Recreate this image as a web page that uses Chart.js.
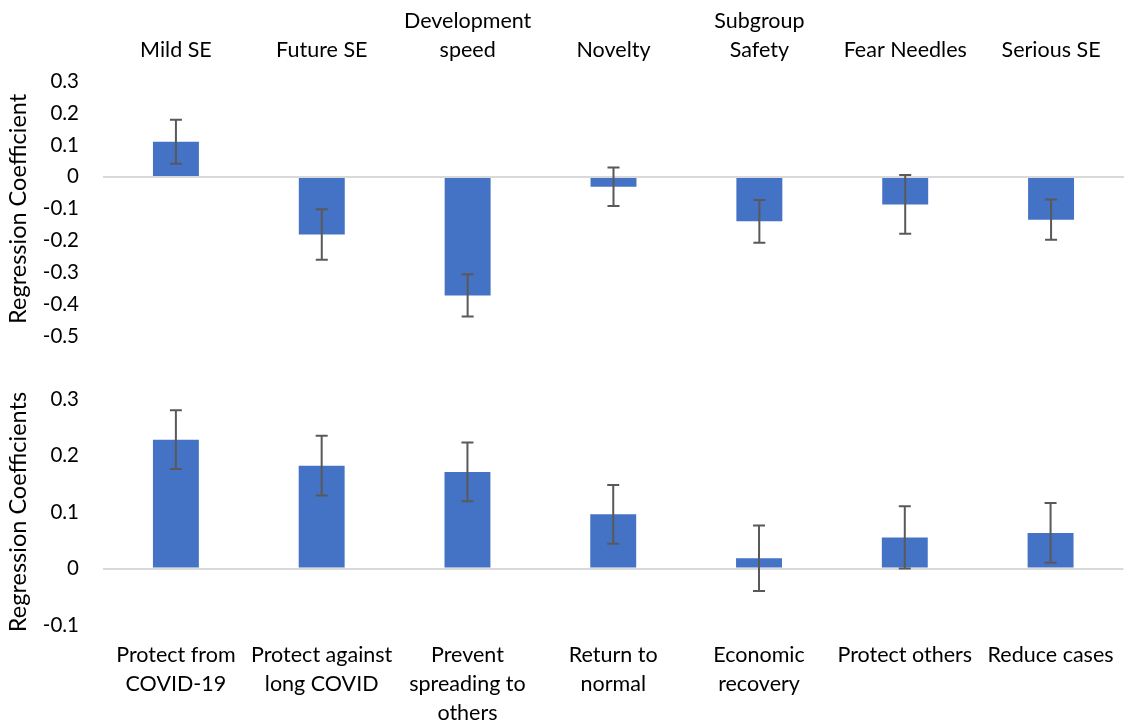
<!DOCTYPE html>
<html>
<head>
<meta charset="utf-8">
<script src="https://cdn.jsdelivr.net/npm/chart.js@4"></script>
<style>
  html, body { margin: 0; padding: 0; background: #fff; }
  #wrap { position: relative; width: 1130px; height: 724px; }
  .panel { position: absolute; left: 0; width: 1130px; }
  #topPanel { top: 0; height: 373px; }
  #bottomPanel { top: 360px; height: 364px; }
</style>
</head>
<body>
<div id="wrap">
  <div class="panel" id="topPanel"><canvas id="concernChart"></canvas></div>
  <div class="panel" id="bottomPanel"><canvas id="motiveChart"></canvas></div>
</div>
<script>
// top panel: concerns
var concernLabels = [['Mild SE'], ['Future SE'], ['Development', 'speed'], ['Novelty'], ['Subgroup', 'Safety'], ['Fear Needles'], ['Serious SE']]
var concernValues = [0.110, -0.180, -0.371, -0.031, -0.139, -0.086, -0.134]
var concernErrors = [0.069, 0.079, 0.066, 0.060, 0.067, 0.092, 0.063]

// bottom panel: motivations
var motiveLabels = [['Protect from', 'COVID-19'], ['Protect against', 'long COVID'], ['Prevent', 'spreading to', 'others'], ['Return to', 'normal'], ['Economic', 'recovery'], ['Protect others'], ['Reduce cases']]
var motiveValues = [0.228, 0.182, 0.171, 0.096, 0.018, 0.055, 0.063]
var motiveErrors = [0.052, 0.053, 0.052, 0.052, 0.058, 0.055, 0.053]

Chart.defaults.font.family = 'Lato, "Open Sans", sans-serif'
Chart.defaults.color = '#000'

// draws the error whiskers using the chart's own scales
const errorBars = {
    id: 'errorBars',
    afterDatasetsDraw(chart, args, opts) {
        const ctx = chart.ctx
        const x = chart.scales.x
        const y = chart.scales.y
        const vals = chart.data.datasets[0].data
        ctx.save()
        ctx.strokeStyle = '#595959'
        ctx.lineWidth = 2
        for (let i = 0; i < vals.length; i++) {
            const px = x.getPixelForValue(i)
            const hi = y.getPixelForValue(vals[i] + opts.errors[i])
            const lo = y.getPixelForValue(vals[i] - opts.errors[i])
            ctx.beginPath()
            ctx.moveTo(px, hi); ctx.lineTo(px, lo)
            ctx.moveTo(px - 6, hi); ctx.lineTo(px + 6, hi)
            ctx.moveTo(px - 6, lo); ctx.lineTo(px + 6, lo)
            ctx.stroke()
        }
        ctx.restore()
    }
}

function makeChart(id, labels, values, errors, opt) {
    return new Chart(document.getElementById(id), {
        type: 'bar',
        data: {
            labels: labels,
            datasets: [{
                data: values,
                backgroundColor: '#4472C4',
                borderWidth: 0,
                categoryPercentage: 1,
                barPercentage: 0.315
            }]
        },
        options: {
            responsive: true,
            maintainAspectRatio: false,
            animation: false,
            layout: { padding: opt.padding },
            plugins: {
                legend: { display: false },
                tooltip: { enabled: false },
                errorBars: { errors: errors }
            },
            scales: {
                x: {
                    position: opt.xPos,
                    grid: { display: false, drawTicks: false },
                    border: { display: false },
                    ticks: {
                        font: { size: 21.5, lineHeight: 29 / 21.5 },
                        padding: 16,
                        maxRotation: 0,
                        autoSkip: false
                    },
                    afterFit: function(s) { s.height = opt.xHeight }
                },
                y: {
                    min: opt.min,
                    max: opt.max,
                    grid: {
                        drawTicks: false,
                        lineWidth: 2,
                        color: c => c.tick && c.tick.value === 0 ? '#d9d9d9' : 'rgba(0,0,0,0)'
                    },
                    border: { display: false },
                    ticks: {
                        stepSize: 0.1,
                        padding: 24,
                        font: { size: 20.5 },
                        callback: v => {
                            const r = Math.round(v * 10) / 10
                            return r === 0 ? '0' : r.toString()
                        }
                    },
                    title: {
                        display: true,
                        text: opt.title,
                        font: { size: 23.5 },
                        padding: { top: 4, bottom: 0 }
                    },
                    afterFit: function(s) { s.width = 103 }
                }
            }
        },
        plugins: [errorBars]
    })
}

makeChart('concernChart', concernLabels, concernValues, concernErrors, {
    xPos: 'top', xHeight: 81, min: -0.5, max: 0.3,
    padding: { top: 0, left: 0, right: 6, bottom: 1 },
    title: 'Regression Coefficient'
})

makeChart('motiveChart', motiveLabels, motiveValues, motiveErrors, {
    xPos: 'bottom', xHeight: 99, min: -0.1, max: 0.3,
    padding: { top: 39, left: 0, right: 6, bottom: 0 },
    title: 'Regression Coefficients'
})
</script>
</body>
</html>
